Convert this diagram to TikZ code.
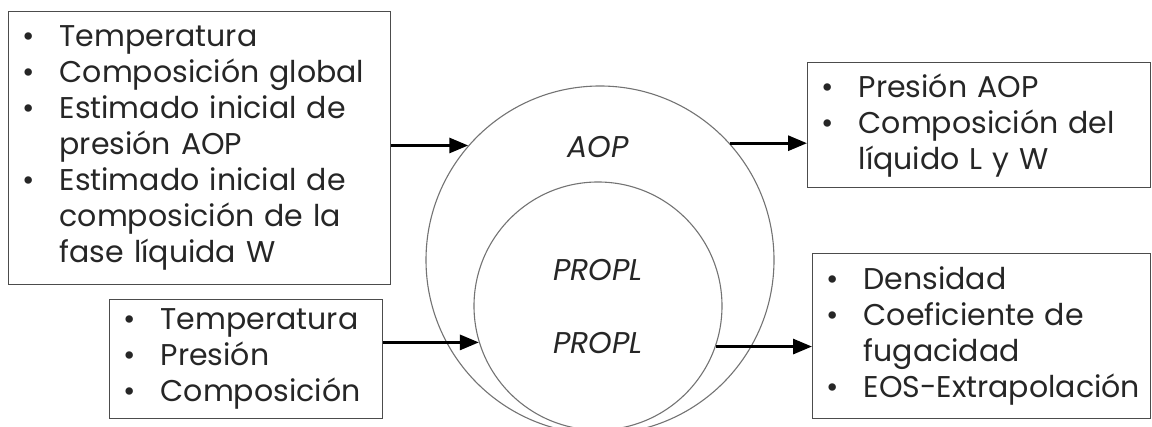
\documentclass[tikz,border=0pt]{standalone}
\usepackage{fontspec}
\setmainfont{Poppins}
\usetikzlibrary{arrows.meta}

\newcommand{\blt}{\makebox[37pt][l]{\textbullet}}
\newcommand{\cnt}{\hspace*{37pt}}

\begin{document}
\begin{tikzpicture}[x=1pt,y=-1pt,
  caja/.style={draw=black!70,line width=1.3pt,anchor=north west,
     align=left,inner xsep=14pt,inner ysep=0pt,
     font=\fontsize{30}{36}\selectfont,text=black!85},
  circ/.style={draw=black!55,line width=1.1pt,circle,inner sep=0pt},
  flecha/.style={-{Triangle[length=19pt,width=15pt]},line width=3pt},
  etiq/.style={font=\fontsize{30}{36}\selectfont\itshape,text=black!85}]
 \useasboundingbox (0,0) rectangle (1152,427);
 % circulos
 \node[circ,minimum size=348pt] (aopc) at (600,260) {};
 \node[circ,minimum size=248pt] (proplc) at (598,306) {};
 \node[etiq] (aop) at (598,147) {AOP};
 \node[etiq] (propl1) at (598,270) {PROPL};
 \node[etiq] (propl2) at (598,343) {PROPL};
 % entradas
 \node[caja,minimum height=273pt,text width=354pt] (ent1) at (8,11) {
   \blt Temperatura\\
   \blt Composición global\\
   \blt Estimado inicial de\\
   \cnt presión AOP\\
   \blt Estimado inicial de\\
   \cnt composición de la\\
   \cnt fase líquida W};
 \node[caja,minimum height=119pt,text width=245pt] (ent2) at (109,299) {
   \blt Temperatura\\
   \blt Presión\\
   \blt Composición};
 % salidas
 \node[caja,minimum height=125pt,text width=315pt] (sal1) at (807,62) {
   \blt Presión AOP\\
   \blt Composición del\\
   \cnt líquido L y W};
 \node[caja,minimum height=165pt,text width=310pt] (sal2) at (812,253) {
   \blt Densidad\\
   \blt Coeficiente de\\
   \cnt fugacidad\\
   \blt \mbox{EOS-Extrapolación}};
 % flechas
 \draw[flecha] (ent1.east |- aopc.139) -- (aopc.139);
 \draw[flecha] (ent2.east |- proplc.197) -- (proplc.197);
 \draw[flecha] (aopc.42) -- (aopc.42 -| sal1.west);
 \draw[flecha] (proplc.-19) -- (proplc.-19 -| sal2.west);
\end{tikzpicture}
\end{document}
